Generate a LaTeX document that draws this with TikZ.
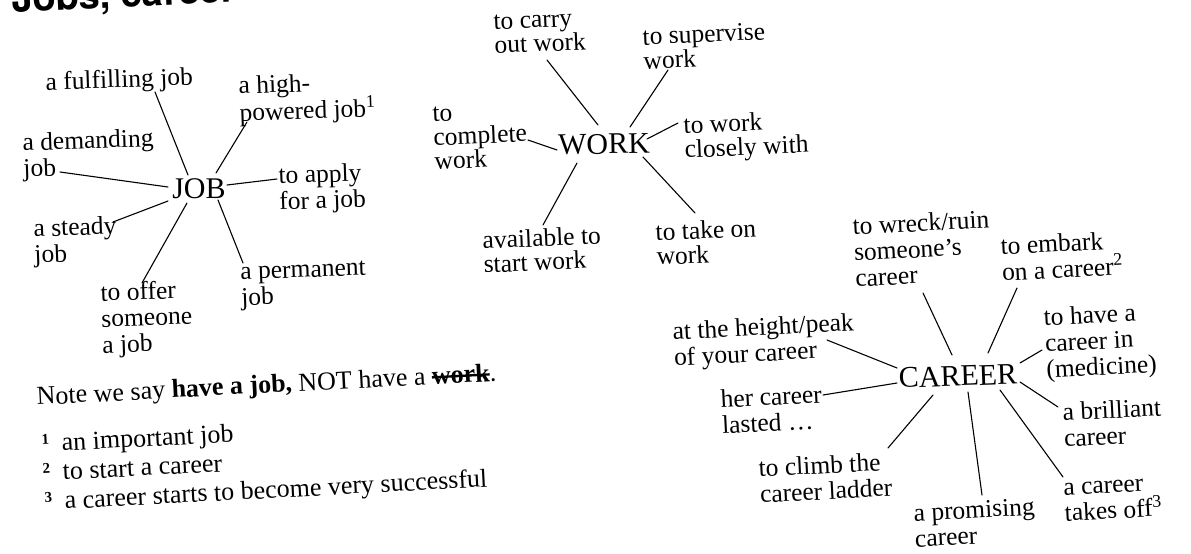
\documentclass[tikz,border=0pt]{standalone}
\usepackage{fontspec}
\setmainfont{Liberation Serif}
\newfontfamily\headfont{TeX Gyre Heros}
% bold word with a line struck through it
\newcommand\struckout[1]{\setbox0\hbox{#1}\rlap{\rule[0.22em]{\wd0}{0.09em}}\box0}
\newcommand\fnmark[1]{\makebox[20pt][l]{\raisebox{8pt}{\fontsize{15}{15}\selectfont\bfseries #1}}}
\begin{document}
\begin{tikzpicture}[x=1pt,y=-1pt,
  lbl/.style={anchor=north west, inner sep=0pt, align=left,
    font=\fontsize{25.5}{26}\selectfont, rotate=2.5},
  hub/.style={inner sep=0pt, font=\fontsize{30}{30}\selectfont},
  note/.style={anchor=base west, inner sep=0pt,
    font=\fontsize{26}{28}\selectfont, rotate=3},
  link/.style={line width=1.1pt, line cap=round}]
\useasboundingbox (0,0) rectangle (1191,554);
\clip (0,0) rectangle (1191,554);
\fill[white] (0,0) rectangle (1191,554);

% heading, running off the top edge
\node[anchor=base west, inner sep=0pt, rotate=3,
  font=\fontsize{38}{38}\headfont\bfseries] (head) at (12,13) {Jobs, career};

% ---------- JOB ----------
\node[hub] (job) at (199,189) {JOB};
\begin{scope}[lbl/.append style={rotate=-0.5}]
\node[lbl] (ful)    at (45,72)   {a fulfilling job};
\node[lbl] (high)   at (238,76)  {a high-\\powered job\textsuperscript{1}};
\node[lbl] (dem)    at (22,133)  {a demanding\\job};
\node[lbl] (apply)  at (278,166) {to apply\\for a job};
\node[lbl] (steady) at (33,219)  {a steady\\job};
\node[lbl] (perm)   at (240,265) {a permanent\\job};
\node[lbl] (offer)  at (100,283) {to offer\\someone\\a job};
\end{scope}
\draw[link] ([shift={(-11,-14)}]job.center) -- ([shift={(110,20)}]ful.north west);
\draw[link] ([shift={(17,-16)}]job.center)  -- ([shift={(9,46)}]high.north west);
\draw[link] ([shift={(-31,-2)}]job.center)  -- ([shift={(38,39)}]dem.north west);
\draw[link] ([shift={(28,-4)}]job.center)   -- ([shift={(-1,13)}]apply.north west);
\draw[link] ([shift={(-31,12)}]job.center)  -- ([shift={(80,3)}]steady.north west);
\draw[link] ([shift={(-12,14)}]job.center)  -- ([shift={(42,0)}]offer.north west);
\draw[link] ([shift={(19,11)}]job.center)   -- ([shift={(3,-2)}]perm.north west);

% ---------- WORK ----------
\node[hub, rotate=1] (work) at (604,144) {WORK};
\begin{scope}[lbl/.append style={font=\fontsize{25.5}{24}\selectfont}]
\node[lbl] (carry) at (493,15)  {to carry\\out work};
\node[lbl] (sup)   at (642,28)  {to supervise\\work};
\node[lbl] (comp)  at (432,107) {to\\complete\\work};
\node[lbl] (close) at (683,116) {to work\\closely with};
\node[lbl] (avail) at (482,231) {available to\\start work};
\node[lbl] (take)  at (655,223) {to take on\\work};
\end{scope}
\draw[link] ([shift={(-6,-19)}]work.center) -- ([shift={(54,45)}]carry.north west);
\draw[link] ([shift={(26,-17)}]work.center) -- ([shift={(26,42)}]sup.north west);
\draw[link] ([shift={(-47,6)}]work.center)  -- ([shift={(96,33)}]comp.north west);
\draw[link] ([shift={(43,-5)}]work.center)  -- ([shift={(-5,7)}]close.north west);
\draw[link] ([shift={(-27,19)}]work.center) -- ([shift={(61,-6)}]avail.north west);
\draw[link] ([shift={(39,13)}]work.center)  -- ([shift={(40,-10)}]take.north west);

% ---------- CAREER ----------
\node[hub, rotate=2] (career) at (958,376) {CAREER};
\begin{scope}[lbl/.append style={rotate=0.5}]
\node[lbl] (wreck)  at (852,217)  {to wreck/ruin\\someone’s\\career};
\node[lbl] (embark) at (1000,237) {to embark\\on a career\textsuperscript{2}};
\node[lbl] (have)   at (1043,308) {to have a\\career in\\(medicine)};
\node[lbl] (height) at (672,322)  {at the height/peak\\of your career};
\node[lbl] (her)    at (720,390)  {her career\\lasted \ldots};
\node[lbl] (climb)  at (758,459)  {to climb the\\career ladder};
\node[lbl] (prom)   at (913,504)  {a promising\\career};
\node[lbl] (brill)  at (1062,403) {a brilliant\\career};
\node[lbl] (takes)  at (1063,483) {a career\\takes off\textsuperscript{3}};
\end{scope}
\draw[link] ([shift={(-6,-21)}]career.center) -- ([shift={(71,76)}]wreck.north west);
\draw[link] ([shift={(30,-23)}]career.center) -- ([shift={(17,51)}]embark.north west);
\draw[link] ([shift={(62,-13)}]career.center) -- ([shift={(-1,42)}]have.north west);
\draw[link] ([shift={(-61,-8)}]career.center) -- ([shift={(155,18)}]height.north west);
\draw[link] ([shift={(-61,7)}]career.center)  -- ([shift={(103,5)}]her.north west);
\draw[link] ([shift={(-25,19)}]career.center) -- ([shift={(130,-11)}]climb.north west);
\draw[link] ([shift={(10,16)}]career.center)  -- ([shift={(69,-9)}]prom.north west);
\draw[link] ([shift={(62,6)}]career.center)   -- ([shift={(-4,4)}]brill.north west);
\draw[link] ([shift={(42,14)}]career.center)  -- ([shift={(0,-6)}]takes.north west);

% ---------- note and footnotes ----------
\node[note] (rule) at (37,405)
  {Note we say \textbf{have a job,} NOT have a \struckout{\textbf{work}}.};
\node[note] (fn1) at (42,452) {\fnmark{1}an important job};
\node[note] (fn2) at (43,481) {\fnmark{2}to start a career};
\node[note] (fn3) at (45,510) {\fnmark{3}a career starts to become very successful};
\end{tikzpicture}
\end{document}
